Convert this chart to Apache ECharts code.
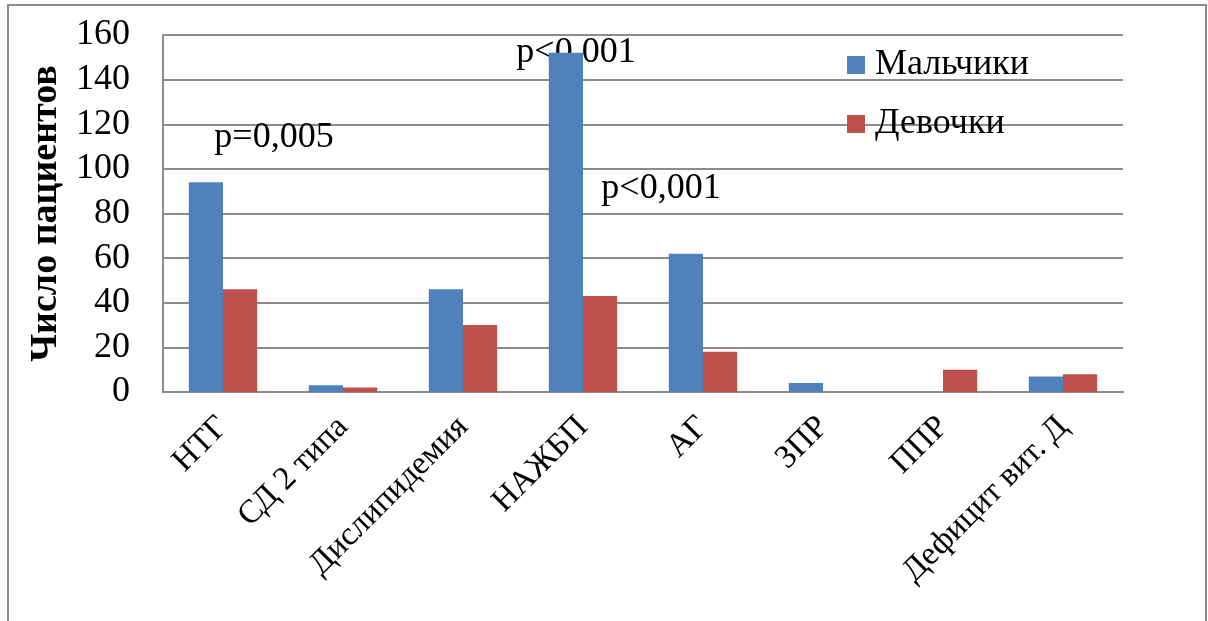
<!DOCTYPE html>
<html>
<head>
<meta charset="utf-8">
<script src="https://cdn.jsdelivr.net/npm/echarts@6/dist/echarts.min.js"></script>
<style>
  html, body { margin: 0; padding: 0; background: #fff; }
  #chart { width: 1208px; height: 621px; }
</style>
</head>
<body>
<div id="chart"></div>
<script>
// Categories of diagnoses
const categories = ['НТГ', 'СД 2 типа', 'Дислипидемия', 'НАЖБП', 'АГ', 'ЗПР', 'ППР', 'Дефицит вит. Д'];
// Number of patients by sex
const boys = [94, 3, 46, 152, 62, 4, 0, 7];
const girls = [46, 2, 30, 43, 18, 0, 10, 8];
const seriesNames = ['Мальчики', 'Девочки'];
// Significance notes: anchor category, anchor value, text
const noteCats = ['НТГ', 'НАЖБП', 'НАЖБП'];
const noteVals = [114, 152, 91];
const noteTexts = ['p=0,005', 'p<0,001', 'p<0,001'];
const noteShift = [51, -7, 78];

const FONT = "'Liberation Serif', 'Times New Roman', serif";
const GRID_COLOR = '#8c8c8c';

const chart = echarts.init(document.getElementById('chart'), null, { renderer: 'canvas' });

const frame = {
  type: 'rect',
  silent: true,
  shape: { x: 8, y: 5, width: 1198, height: 700 },
  style: { fill: 'none', stroke: '#8c8c8c', lineWidth: 2 }
};

chart.setOption({
  backgroundColor: '#ffffff',
  animation: false,
  textStyle: { fontFamily: FONT, color: '#000' },
  grid: { left: 163, right: 85, top: 35, bottom: 229, containLabel: false },
  legend: {
    orient: 'vertical',
    left: 847,
    top: 47,
    padding: 0,
    itemWidth: 18,
    itemHeight: 18,
    itemGap: 23,
    icon: 'rect',
    textStyle: {
      fontFamily: FONT,
      fontSize: 36,
      color: '#000',
      lineHeight: 36,
      padding: [0, 0, 0, 5]
    },
    data: seriesNames
  },
  xAxis: {
    type: 'category',
    data: categories,
    axisLine: { lineStyle: { color: GRID_COLOR, width: 2 } },
    axisTick: { show: false },
    axisLabel: {
      rotate: 45,
      interval: 0,
      margin: 30,
      fontFamily: FONT,
      fontSize: 33,
      color: '#000'
    }
  },
  yAxis: {
    type: 'value',
    min: 0,
    max: 160,
    interval: 20,
    name: 'Число пациентов',
    nameLocation: 'middle',
    nameRotate: 90,
    nameGap: 93,
    nameTextStyle: { fontFamily: FONT, fontSize: 38, fontWeight: 'bold', color: '#000' },
    axisLine: { show: true, lineStyle: { color: GRID_COLOR, width: 2 } },
    axisTick: { show: false },
    splitLine: { lineStyle: { color: GRID_COLOR, width: 2 } },
    axisLabel: { fontFamily: FONT, fontSize: 36, color: '#000', margin: 33 }
  },
  series: [
    {
      name: seriesNames[0],
      type: 'bar',
      data: boys,
      barGap: '0%',
      barCategoryGap: '43%',
      itemStyle: { color: '#4F81BD' }
    },
    {
      name: seriesNames[1],
      type: 'bar',
      data: girls,
      itemStyle: { color: '#C0504D' }
    }
  ],
  graphic: [frame]
});

// Place significance notes from data coordinates
const noteGraphics = noteTexts.map((t, i) => {
  const p = chart.convertToPixel({ gridIndex: 0 }, [noteCats[i], noteVals[i]]);
  return {
    type: 'text',
    silent: true,
    x: p[0] + noteShift[i],
    y: p[1],
    style: {
      text: t,
      fontFamily: FONT,
      fontSize: 36,
      fill: '#000',
      align: 'center',
      verticalAlign: 'middle'
    }
  };
});
chart.setOption({ graphic: [frame].concat(noteGraphics) }, { replaceMerge: ['graphic'] });
</script>
</body>
</html>
